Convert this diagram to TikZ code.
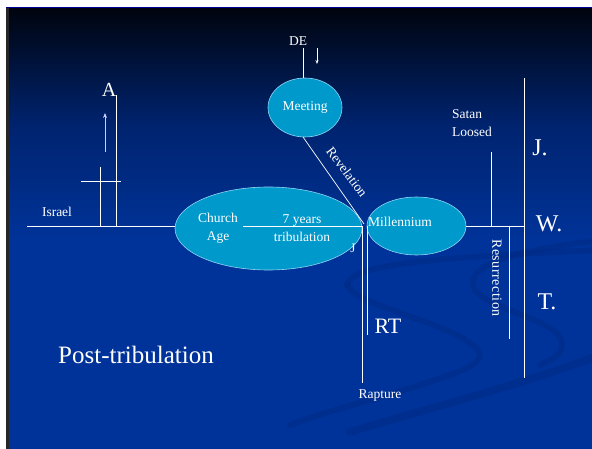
\documentclass[tikz,border=0pt]{standalone}
\usepackage{fontspec}
\setmainfont{Liberation Serif}
\usetikzlibrary{shapes.geometric,arrows.meta}
\definecolor{bgtop}{HTML}{00040E}
\definecolor{bgmid}{HTML}{00236E}
\definecolor{bgbot}{HTML}{003399}
\definecolor{ellfill}{HTML}{0099CC}
\definecolor{ellline}{HTML}{8FD6F2}
\definecolor{swirl}{HTML}{00287F}
\begin{document}
\begin{tikzpicture}[x=1pt,y=-1pt,
  wl/.style={white, line width=0.9pt},
  ell/.style={ellipse, fill=ellfill, draw=ellline, line width=0.6pt, inner sep=0pt},
  lbl/.style={text=white, font=\fontsize{13.5}{18}\selectfont, inner sep=0pt, align=center},
  biglbl/.style={text=white, font=\fontsize{24}{28}\selectfont, inner sep=0pt},
  sw/.style={swirl, line width=6pt, opacity=0.4, line cap=round},
]
\useasboundingbox (0,0) rectangle (592,449);
\fill[white] (0,0) rectangle (592,449);
% slide background
\shade[top color=bgtop, bottom color=bgbot, middle color=bgmid] (7,8) rectangle (592,240);
\fill[bgbot] (7,239.5) rectangle (592,449);
\fill[black!85] (6,8) rectangle (8.5,449);
\draw[blue!60!black, line width=0.8pt] (6,7.6) -- (592,7.6);
% decorative swirls
\begin{scope}
  \clip (8.5,8) rectangle (592,449);
  \draw[sw] (347,285) .. controls (352,265) and (420,258) .. (600,250);
  \draw[sw] (347,285) .. controls (355,305) and (440,320) .. (473,345)
            .. controls (495,362) and (460,372) .. (420,385)
            .. controls (380,398) and (330,410) .. (290,425);
  \draw[sw] (600,240) .. controls (520,250) and (460,265) .. (475,290)
            .. controls (490,310) and (560,320) .. (562,343)
            .. controls (564,355) and (550,360) .. (540,365);
  \draw[sw, line width=8pt] (350,432) .. controls (440,405) and (520,385) .. (600,355);
\end{scope}
% ellipses
\node[ell, minimum width=187pt, minimum height=83pt] (ca) at (268.5,228.5) {};
\node[ell, minimum width=99pt, minimum height=58pt] (mil) at (416.5,226) {};
\node[ell, minimum width=74pt, minimum height=59pt] (meet) at (305,107.5) {};
% coordinates
\coordinate (l0) at (27,226);
\coordinate (caW) at (175,226);
\coordinate (in0) at (243,226);
\coordinate (jn) at (362,226);
\coordinate (jn2) at (367,226);
\coordinate (milE) at (466,226);
\coordinate (jwtM) at (524,226);
\coordinate (jwtT) at (524,78);
\coordinate (jwtB) at (524,378);
\coordinate (rapB) at (362,383);
\coordinate (rtB) at (367,335);
\coordinate (revE) at (364,224);
\coordinate (meetS) at (303,137);
\coordinate (meetN) at (303,78);
\coordinate (deB) at (303,48);
\coordinate (da0) at (317,48);
\coordinate (da1) at (317,64);
\coordinate (i1t) at (100,167);
\coordinate (i1b) at (100,226);
\coordinate (i2t) at (116,95);
\coordinate (i2b) at (116,226);
\coordinate (cbL) at (81,181);
\coordinate (cbR) at (121,181);
\coordinate (ar0) at (105,152);
\coordinate (ar1) at (105,113);
\coordinate (stB) at (491,226);
\coordinate (stT) at (491,152);
\coordinate (reT) at (509,226);
\coordinate (reB) at (509,339);
% lines
\draw[wl] (l0) -- (caW);
\draw[wl] (in0) -- (jn);
\draw[wl] (milE) -- (jwtM);
\draw[wl] (jwtT) -- (jwtB);
\draw[wl] (jn) -- (rapB);
\draw[wl] (jn2) -- (rtB);
\draw[white, line width=0.7pt] (meetS) -- (revE);
\draw[wl] (deB) -- (meetN);
\draw[white, line width=0.6pt, -{Stealth[length=4pt,width=3pt]}] (da0) -- (da1);
\draw[wl] (i1t) -- (i1b);
\draw[wl] (i2t) -- (i2b);
\draw[wl] (cbL) -- (cbR);
\draw[white!80!blue, line width=0.8pt, -{Stealth[length=5pt,width=4pt]}] (ar0) -- (ar1);
\draw[wl] (stB) -- (stT);
\draw[wl] (reT) -- (reB);
% labels
\node[lbl] (de) at (298,41) {DE};
\node[text=white, font=\fontsize{20}{24}\selectfont, inner sep=0pt] (a) at (109,90) {A};
\node[lbl] (isr) at (57,212) {Israel};
\node[lbl] (meett) at (305,107) {Meeting};
\node[lbl, rotate=-53] (rev) at (347,172) {Revelation};
\node[lbl] (church) at (218,228) {Church\\Age};
\node[lbl] (trib) at (302,228) {7 years\\tribulation};
\node[lbl, font=\fontsize{13}{14}\selectfont] (jsm) at (353,248) {J};
\node[lbl] (milt) at (400,222) {Millennium};
\node[lbl, align=left, anchor=west] (satan) at (452,123) {Satan\\Loosed};
\node[lbl, rotate=-90, font=\fontsize{14}{18}\selectfont\addfontfeature{LetterSpace=4}] (res) at (497,278) {Resurrection};
\node[biglbl] (jj) at (540,148) {J.};
\node[biglbl] (ww) at (549,224) {W.};
\node[biglbl] (tt) at (547,302) {T.};
\node[text=white, font=\fontsize{22}{26}\selectfont, inner sep=0pt] (rt) at (388,326) {RT};
\node[lbl] (rap) at (380,396) {Rapture};
\node[text=white, font=\fontsize{25}{30}\selectfont, inner sep=0pt] (post) at (136,355) {Post-tribulation};
\end{tikzpicture}
\end{document}
